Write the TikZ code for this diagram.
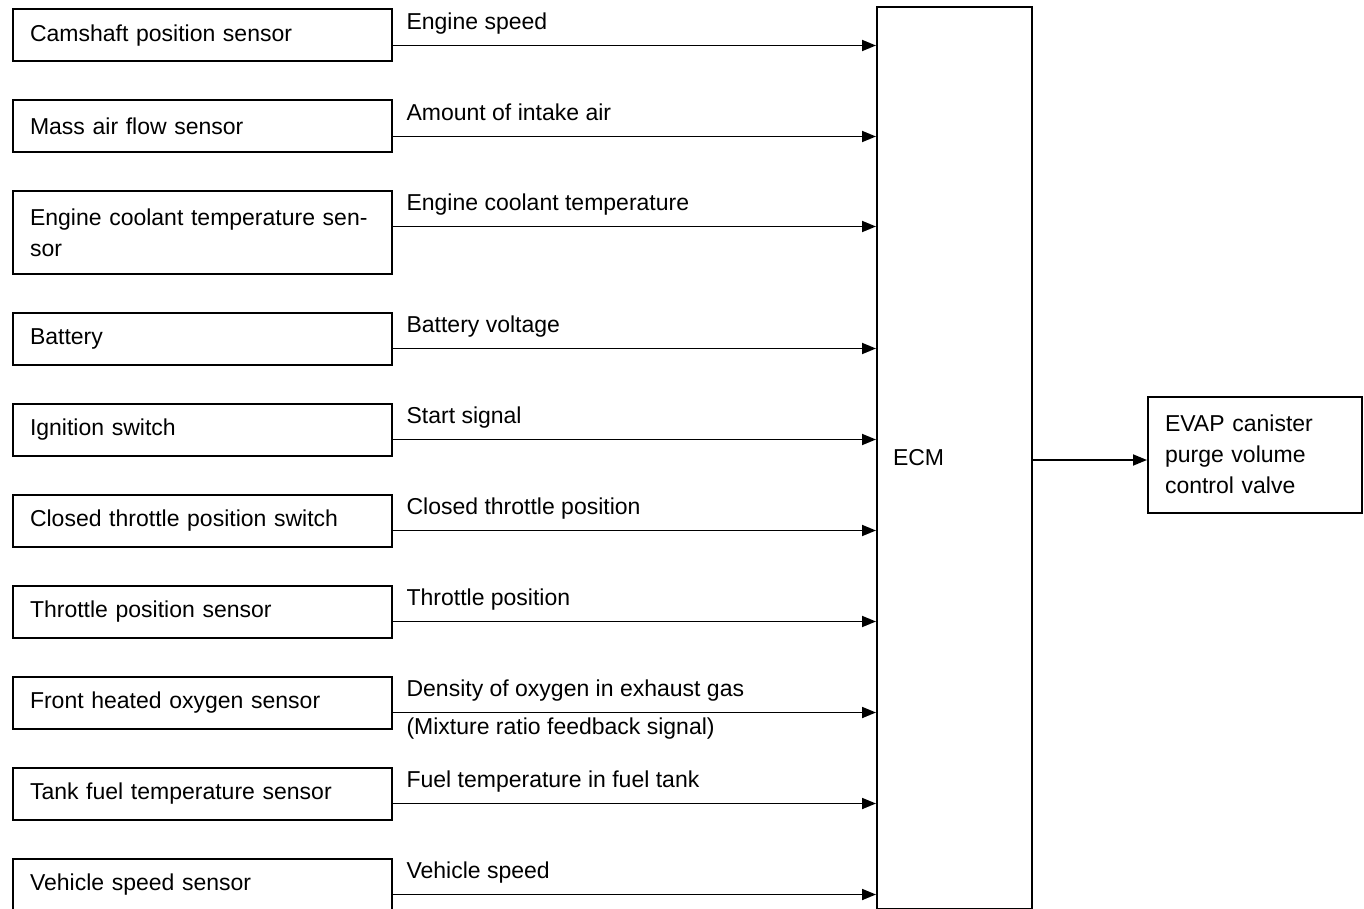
\documentclass[tikz,border=0pt]{standalone}
\usepackage{fontspec}
\setmainfont{Liberation Sans}
\usetikzlibrary{arrows.meta, positioning}
\tikzset{
    sensorbox/.style={
        rectangle, draw=black, fill=white, line width=1pt,
        text width=172.5pt, inner xsep=8.5pt, minimum height=26pt,
        align=left, font=\fontsize{11.5}{15.5}\selectfont
    },
    ecmbox/.style={
        rectangle, draw=black, fill=white, line width=1pt,
        text width=61.5pt, inner xsep=8pt, minimum height=451pt,
        align=left, font=\fontsize{11.5}{15.5}\selectfont
    },
    valvebox/.style={
        rectangle, draw=black, fill=white, line width=1pt,
        text width=90pt, inner xsep=8.5pt, minimum height=58pt,
        align=left, font=\fontsize{11.5}{15.5}\selectfont
    },
    sigarrow/.style={
        -{Triangle[length=7pt, width=5.5pt]}, line width=0.9pt, color=black
    },
    siglabel/.style={
        anchor=base west, xshift=3pt, yshift=8pt,
        font=\fontsize{11.5}{15.5}\selectfont
    },
    siglabelb/.style={
        anchor=base west, xshift=3pt, yshift=-11pt,
        font=\fontsize{11.5}{15.5}\selectfont
    },
}
\begin{document}
\begin{tikzpicture}[x=0.5pt, y=-0.5pt, node distance=18.5pt]

    \useasboundingbox (0,0) rectangle (1364,909);

    % Left column: sensors
    \node[sensorbox] (cam) at (202.5,35.5) {Camshaft position sensor};
    \node[sensorbox, below=of cam] (maf) {Mass air flow sensor};
    \node[sensorbox, minimum height=41pt, below=of maf] (ect) {Engine coolant temperature sen-\\sor};
    \node[sensorbox, below=of ect] (batt) {Battery};
    \node[sensorbox, below=of batt] (ign) {Ignition switch};
    \node[sensorbox, below=of ign] (ctps) {Closed throttle position switch};
    \node[sensorbox, below=of ctps] (tps) {Throttle position sensor};
    \node[sensorbox, below=of tps] (ho2s) {Front heated oxygen sensor};
    \node[sensorbox, below=of ho2s] (tft) {Tank fuel temperature sensor};
    \node[sensorbox, below=of tft] (vss) {Vehicle speed sensor};

    % Control unit and actuator
    \node[ecmbox] (ecm) at (954.5,458) {ECM};
    \node[valvebox] (evap) at (1255,454.5) {EVAP canister\\purge volume\\control valve};

    % Input signals
    \draw[sigarrow] ([yshift=-5pt]cam.east) -- ([yshift=-5pt]cam.east -| ecm.west)
        node[siglabel, pos=0] {Engine speed};
    \draw[sigarrow] ([yshift=-5pt]maf.east) -- ([yshift=-5pt]maf.east -| ecm.west)
        node[siglabel, pos=0] {Amount of intake air};
    \draw[sigarrow] ([yshift=3pt]ect.east) -- ([yshift=3pt]ect.east -| ecm.west)
        node[siglabel, pos=0] {Engine coolant temperature};
    \draw[sigarrow] ([yshift=-5pt]batt.east) -- ([yshift=-5pt]batt.east -| ecm.west)
        node[siglabel, pos=0] {Battery voltage};
    \draw[sigarrow] ([yshift=-5pt]ign.east) -- ([yshift=-5pt]ign.east -| ecm.west)
        node[siglabel, pos=0] {Start signal};
    \draw[sigarrow] ([yshift=-5pt]ctps.east) -- ([yshift=-5pt]ctps.east -| ecm.west)
        node[siglabel, pos=0] {Closed throttle position};
    \draw[sigarrow] ([yshift=-5pt]tps.east) -- ([yshift=-5pt]tps.east -| ecm.west)
        node[siglabel, pos=0] {Throttle position};
    \draw[sigarrow] ([yshift=-5pt]ho2s.east) -- ([yshift=-5pt]ho2s.east -| ecm.west)
        node[siglabel, pos=0] {Density of oxygen in exhaust gas}
        node[siglabelb, pos=0] {(Mixture ratio feedback signal)};
    \draw[sigarrow] ([yshift=-5pt]tft.east) -- ([yshift=-5pt]tft.east -| ecm.west)
        node[siglabel, pos=0] {Fuel temperature in fuel tank};
    \draw[sigarrow] ([yshift=-5pt]vss.east) -- ([yshift=-5pt]vss.east -| ecm.west)
        node[siglabel, pos=0] {Vehicle speed};

    % Output signal
    \draw[sigarrow] (ecm.east |- 0,460) -- (evap.west |- 0,460);

\end{tikzpicture}
\end{document}
